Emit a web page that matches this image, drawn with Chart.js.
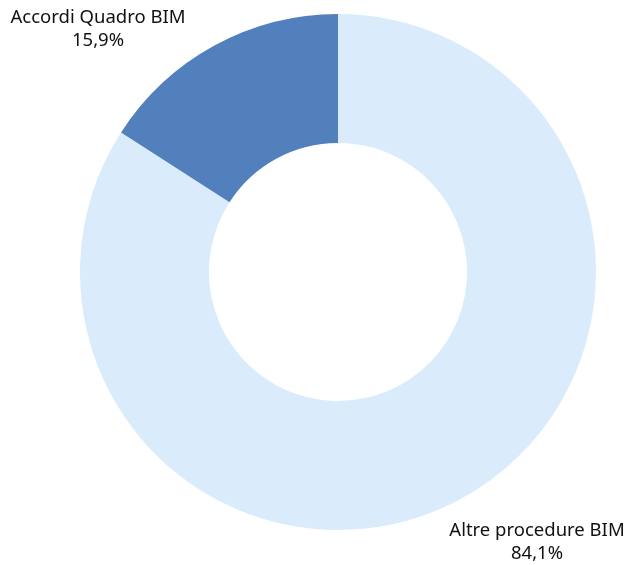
<!DOCTYPE html>
<html>
<head>
<meta charset="utf-8">
<script src="https://cdn.jsdelivr.net/npm/chart.js@4"></script>
<style>
  html, body { margin: 0; padding: 0; background: #fff; }
  #quota_chart { display: block; }
</style>
</head>
<body>
<canvas id="quota_chart" width="625" height="565"></canvas>
<script>
const categorie = ["Altre procedure BIM", "Accordi Quadro BIM"];
const quote = [84.1, 15.9];
const colori = ["#DAEBFC", "#5180BD"];

// etichette esterne: nome + percentuale, posizione del centro del testo
const posEtichette = [
    { x: 537, y: 531 },
    { x: 98, y: 18 }
];

function formatta(v) {
    return v.toFixed(1).replace(".", ",") + "%";
}

const etichettePlugin = {
    id: "etichette",
    afterDraw(chart) {
        const ctx = chart.ctx;
        ctx.save();
        ctx.fillStyle = "#111";
        ctx.font = "18.5px 'Noto Sans'";
        ctx.textAlign = "center";
        ctx.textBaseline = "middle";
        for (let i = 0; i < categorie.length; i++) {
            const p = posEtichette[i];
            ctx.fillText(categorie[i], p.x, p.y);
            ctx.fillText(formatta(quote[i]), p.x, p.y + 23);
        }
        ctx.restore();
    }
};

new Chart(document.getElementById("quota_chart"), {
    type: "doughnut",
    data: {
        labels: categorie,
        datasets: [{
            data: quote,
            backgroundColor: colori,
            borderWidth: 0,
            hoverOffset: 0
        }]
    },
    options: {
        responsive: false,
        animation: false,
        cutout: "50%",
        layout: { padding: { top: 14, bottom: 35, left: 80, right: 29 } },
        plugins: {
            legend: { display: false },
            tooltip: { enabled: false }
        }
    },
    plugins: [etichettePlugin]
});
</script>
</body>
</html>
